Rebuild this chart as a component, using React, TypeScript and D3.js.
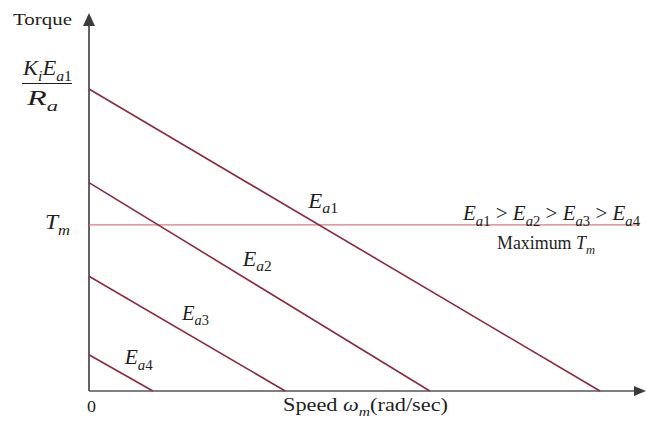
import React from "react";
import * as d3 from "d3";

// Torque–speed characteristics of a DC motor for four armature voltages
const curveIds = ["1", "2", "3", "4"];
const stallTorque = [100, 69, 38, 12]; // torque at zero speed (K_i E_a / R_a)
const noLoadSpeed = [100, 66.7, 38.4, 12.5]; // speed at zero torque
const maxTorque = 55; // T_m

type Part = [string, "i" | "r" | "si" | "sr"];

const SERIF = '"Liberation Serif", "Times New Roman", Times, "DejaVu Serif", serif';

function Label(props: {
  x: number;
  y: number;
  w: number;
  size: number;
  parts: Part[];
}) {
  const { x, y, w, size, parts } = props;
  const shift = size * 0.28;
  let inSub = false;
  return (
    <text
      x={x}
      y={y}
      textLength={w}
      lengthAdjust="spacingAndGlyphs"
      style={{ fontFamily: SERIF, fontSize: size }}
      fill="#1e1e1e"
    >
      {parts.map(([t, k], i) => {
        const isSub = k.startsWith("s");
        let dy = 0;
        if (isSub && !inSub) dy = shift;
        if (!isSub && inSub) dy = -shift;
        inSub = isSub;
        return (
          <tspan
            key={i}
            dy={dy || undefined}
            style={{
              fontSize: isSub ? size * 0.7 : size,
              fontStyle: k.endsWith("i") ? "italic" : "normal",
            }}
          >
            {t}
          </tspan>
        );
      })}
    </text>
  );
}

export default function App() {
  const W = 646;
  const H = 423;
  const x = d3.scaleLinear().domain([0, 100]).range([89, 600]);
  const y = d3.scaleLinear().domain([0, 100]).range([391, 89]);

  const line = d3
    .line<[number, number]>()
    .x((d) => x(d[0]))
    .y((d) => y(d[1]));

  const x0 = x(0);
  const y0 = y(0);
  const xEnd = 640;
  const yTop = 20;

  // speed at which each curve's name is written, just above the curve
  const labelAt = [42.9, 30.1, 18.2, 7.0];
  const labelW = [30, 29, 27, 28];

  const eaParts = (id: string): Part[] => [
    ["E", "i"],
    ["a", "si"],
    [id, "sr"],
  ];

  const inequality: Part[] = [];
  curveIds.forEach((id, i) => {
    if (i > 0) inequality.push([" > ", "r"]);
    inequality.push(...eaParts(id));
  });

  return (
    <svg
      width={W}
      height={H}
      style={{ position: "absolute", left: 0, top: 0, background: "#fff" }}
    >
      {/* axes */}
      <line x1={x0} y1={y0} x2={x0} y2={yTop} stroke="#3c3c3c" strokeWidth={1.6} />
      <path d={`M${x0},13 L${x0 - 6},26 L${x0 + 6},26 Z`} fill="#3c3c3c" />
      <line x1={x0} y1={y0} x2={xEnd - 4} y2={y0} stroke="#555" strokeWidth={1.4} />
      <path d={`M646,${y0} L634,${y0 - 5} L634,${y0 + 5} Z`} fill="#3c3c3c" />

      {/* maximum torque */}
      <line
        x1={x0}
        y1={y(maxTorque)}
        x2={xEnd}
        y2={y(maxTorque)}
        stroke="#d97a82"
        strokeWidth={1.3}
      />

      {/* torque–speed lines */}
      {curveIds.map((id, i) => (
        <path
          key={id}
          d={line([
            [0, stallTorque[i]],
            [noLoadSpeed[i], 0],
          ]) || ""}
          fill="none"
          stroke="#8c2a42"
          strokeWidth={1.6}
        />
      ))}

      {/* curve names */}
      {curveIds.map((id, i) => {
        const s = labelAt[i];
        const t = stallTorque[i] * (1 - s / noLoadSpeed[i]);
        return (
          <Label
            key={id}
            x={x(s)}
            y={y(t) - 11}
            w={labelW[i]}
            size={20}
            parts={eaParts(id)}
          />
        );
      })}

      {/* y-axis annotations */}
      <Label x={13} y={25} w={59} size={17} parts={[["Torque", "r"]]} />
      <Label
        x={23}
        y={75}
        w={49}
        size={20}
        parts={[
          ["K", "i"],
          ["i", "si"],
          ["E", "i"],
          ["a", "si"],
          ["1", "sr"],
        ]}
      />
      <line x1={22} y1={83.5} x2={72} y2={83.5} stroke="#1e1e1e" strokeWidth={1} />
      <Label
        x={27}
        y={105}
        w={31}
        size={20}
        parts={[
          ["R", "i"],
          ["a", "si"],
        ]}
      />
      <Label
        x={45}
        y={229}
        w={25}
        size={20}
        parts={[
          ["T", "i"],
          ["m", "si"],
        ]}
      />

      {/* right-hand notes */}
      <Label x={463} y={220} w={177} size={20} parts={inequality} />
      <Label
        x={497}
        y={249}
        w={98}
        size={18}
        parts={[
          ["Maximum ", "r"],
          ["T", "i"],
          ["m", "si"],
        ]}
      />

      {/* x-axis annotations */}
      <Label x={87} y={412} w={9} size={17} parts={[["0", "r"]]} />
      <Label
        x={283}
        y={411}
        w={165}
        size={18}
        parts={[
          ["Speed ", "r"],
          ["ω", "i"],
          ["m", "si"],
          ["(rad/sec)", "r"],
        ]}
      />
    </svg>
  );
}
